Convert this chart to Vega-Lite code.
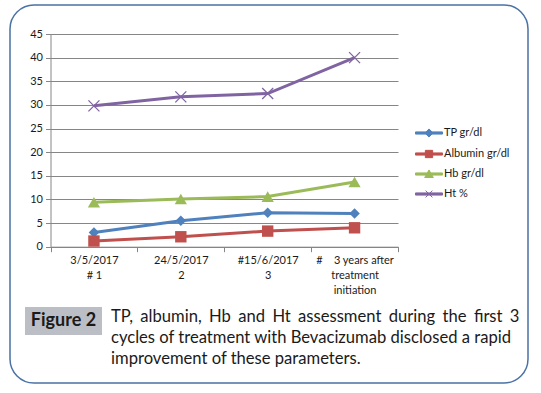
{
  "$schema": "https://vega.github.io/schema/vega-lite/v6.json",
  "width": 518,
  "height": 378,
  "autosize": {"type": "none"},
  "padding": {"left": 10, "top": 5, "right": 13, "bottom": 10},
  "background": "white",
  "config": {
    "view": {"stroke": "#4a72a4", "strokeWidth": 1.5, "cornerRadius": 24},
    "font": "Lato",
    "axis": {"labelFont": "Lato", "labelFontSize": 11, "labelColor": "#1a1a1a"},
    "legend": {"labelFont": "Lato"}
  },
  "data": {
    "values": [
      {"cat": "3/5/2017|# 1", "series": "TP gr/dl", "value": 3.0},
      {"cat": "24/5/2017|2", "series": "TP gr/dl", "value": 5.5},
      {"cat": "#15/6/2017|3", "series": "TP gr/dl", "value": 7.2},
      {"cat": "#\u00a0\u00a0\u00a0\u00a03 years after\u00a0\u00a0\u00a0\u00a0\u00a0\u00a0|treatment|initiation", "series": "TP gr/dl", "value": 7.0},
      {"cat": "3/5/2017|# 1", "series": "Albumin gr/dl", "value": 1.2},
      {"cat": "24/5/2017|2", "series": "Albumin gr/dl", "value": 2.1},
      {"cat": "#15/6/2017|3", "series": "Albumin gr/dl", "value": 3.3},
      {"cat": "#\u00a0\u00a0\u00a0\u00a03 years after\u00a0\u00a0\u00a0\u00a0\u00a0\u00a0|treatment|initiation", "series": "Albumin gr/dl", "value": 4.0},
      {"cat": "3/5/2017|# 1", "series": "Hb gr/dl", "value": 9.4},
      {"cat": "24/5/2017|2", "series": "Hb gr/dl", "value": 10.1},
      {"cat": "#15/6/2017|3", "series": "Hb gr/dl", "value": 10.6},
      {"cat": "#\u00a0\u00a0\u00a0\u00a03 years after\u00a0\u00a0\u00a0\u00a0\u00a0\u00a0|treatment|initiation", "series": "Hb gr/dl", "value": 13.7},
      {"cat": "3/5/2017|# 1", "series": "Ht %", "value": 29.8},
      {"cat": "24/5/2017|2", "series": "Ht %", "value": 31.7},
      {"cat": "#15/6/2017|3", "series": "Ht %", "value": 32.4},
      {"cat": "#\u00a0\u00a0\u00a0\u00a03 years after\u00a0\u00a0\u00a0\u00a0\u00a0\u00a0|treatment|initiation", "series": "Ht %", "value": 40.0}
    ]
  },
  "layer": [
    {
      "mark": {"type": "line", "strokeWidth": 3},
      "encoding": {
        "x": {
          "field": "cat", "type": "nominal", "sort": null,
          "scale": {"range": [40.5, 388], "paddingInner": 0, "paddingOuter": 0},
          "axis": {
            "title": null, "offset": -136.3, "tickBand": "extent", "tickSize": 5,
            "labelAngle": 0, "labelExpr": "split(datum.label, '|')", "labelLineHeight": 15,
            "labelPadding": 3, "labelOverlap": false, "grid": false,
            "domainColor": "#868686", "tickColor": "#868686"
          }
        },
        "y": {
          "field": "value", "type": "quantitative",
          "scale": {"domain": [0, 45], "range": [241.7, 29], "nice": false, "zero": true},
          "axis": {
            "title": null, "offset": -40.5, "values": [0, 5, 10, 15, 20, 25, 30, 35, 40, 45],
            "tickSize": 5, "labelPadding": 3, "grid": true,
            "gridColor": "#868686", "domainColor": "#868686", "tickColor": "#868686"
          }
        },
        "color": {
          "field": "series", "type": "nominal",
          "scale": {
            "domain": ["TP gr/dl", "Albumin gr/dl", "Hb gr/dl", "Ht %"],
            "range": ["#4f81bd", "#c0504d", "#9bbb59", "#8064a2"]
          },
          "legend": {
            "title": null, "orient": "none", "legendX": 405, "legendY": 114,
            "symbolSize": 729, "labelFontSize": 11, "labelColor": "#1a1a1a",
            "labelOffset": 1, "rowPadding": -6,
            "encode": {
              "symbols": {
                "update": {
                  "shape": {"signal": "datum.value === 'TP gr/dl' ? 'M-1,-0.08H1V0.08H-1ZM0,-0.3L0.3,0L0,0.3L-0.3,0Z' : datum.value === 'Albumin gr/dl' ? 'M-1,-0.08H1V0.08H-1ZM-0.27,-0.27H0.27V0.27H-0.27Z' : datum.value === 'Hb gr/dl' ? 'M-1,-0.08H1V0.08H-1ZM0,-0.3L0.32,0.26H-0.32Z' : 'M-1,-0.08H1V0.08H-1ZM-0.25,-0.25L0.25,0.25M0.25,-0.25L-0.25,0.25'"},
                  "fill": {"scale": "color", "field": "value"},
                  "stroke": {"scale": "color", "field": "value"},
                  "strokeWidth": {"value": 1},
                  "opacity": {"value": 1}
                }
              }
            }
          }
        }
      }
    },
    {
      "transform": [{"filter": "datum.series !== 'Ht %'"}],
      "mark": {"type": "point", "filled": true, "opacity": 1},
      "encoding": {
        "x": {"field": "cat", "type": "nominal", "sort": null},
        "y": {"field": "value", "type": "quantitative"},
        "color": {"field": "series", "type": "nominal", "legend": null},
        "shape": {
          "field": "series", "type": "nominal", "legend": null,
          "scale": {"domain": ["TP gr/dl", "Albumin gr/dl", "Hb gr/dl"], "range": ["diamond", "square", "triangle-up"]}
        },
        "size": {
          "field": "series", "type": "nominal", "legend": null,
          "scale": {"domain": ["TP gr/dl", "Albumin gr/dl", "Hb gr/dl"], "range": [110, 150, 150]}
        }
      }
    },
    {
      "transform": [{"filter": "datum.series === 'Ht %'"}],
      "mark": {"type": "point", "filled": false, "opacity": 1, "shape": "M-1,-1L1,1M-1,1L1,-1", "size": 121, "strokeWidth": 1.3},
      "encoding": {
        "x": {"field": "cat", "type": "nominal", "sort": null},
        "y": {"field": "value", "type": "quantitative"},
        "color": {"field": "series", "type": "nominal", "legend": null}
      }
    },
    {
      "data": {"values": [{}]},
      "mark": {"type": "rect", "color": "#bcbec6"},
      "encoding": {
        "x": {"value": 15}, "x2": {"value": 92},
        "y": {"value": 302}, "y2": {"value": 330}
      }
    },
    {
      "data": {"values": [{}]},
      "mark": {"type": "text", "font": "Lato", "fontSize": 18, "fontWeight": "bold", "color": "#1a1a1a", "align": "center", "baseline": "middle"},
      "encoding": {
        "x": {"value": 53.5}, "y": {"value": 316},
        "text": {"value": "Figure 2"}
      }
    },
    {
      "data": {"values": [{}]},
      "mark": {"type": "text", "font": "Lato", "fontSize": 16.6, "color": "#1a1a1a", "align": "left", "baseline": "alphabetic", "lineHeight": 21.1},
      "encoding": {
        "x": {"value": 101}, "y": {"value": 317.3},
        "text": {"value": ["TP, \u200a\u200a\u200aalbumin, \u200a\u200a\u200aHb \u200a\u200a\u200aand \u200a\u200a\u200aHt \u200a\u200a\u200aassessment \u200a\u200a\u200aduring \u200a\u200a\u200athe \u200a\u200a\u200afirst \u200a\u200a\u200a3", "cycles of treatment with Bevacizumab disclosed a rapid", "improvement of these parameters."]}
      }
    }
  ]
}
